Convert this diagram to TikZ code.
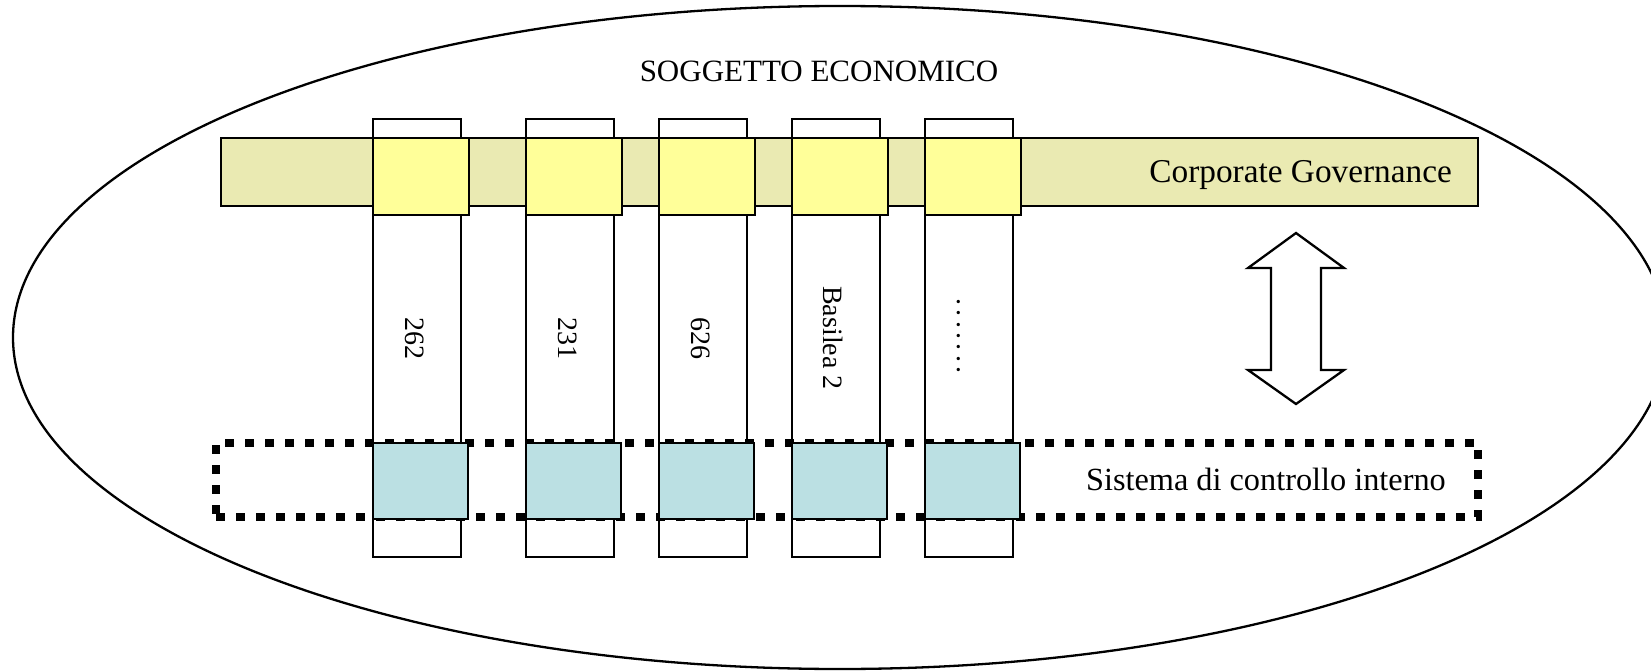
\documentclass[tikz,border=0pt]{standalone}
\usepackage{fontspec}
\setmainfont{Liberation Serif}
\usetikzlibrary{shapes.geometric}
\definecolor{cgbar}{RGB}{234,234,178}
\definecolor{ylw}{RGB}{255,255,153}
\definecolor{blu}{RGB}{187,224,227}
\begin{document}
\begin{tikzpicture}[x=1pt,y=-1pt,
  box/.style={draw, line width=2.7pt, inner sep=0pt, outer sep=0pt, rectangle},
  colbox/.style={box, fill=white, minimum width=88pt, minimum height=438pt},
  ysq/.style={box, fill=ylw, minimum width=96pt, minimum height=77pt},
  bsq/.style={box, fill=blu, minimum width=95pt, minimum height=76pt},
  lab/.style={rotate=-90, anchor=base, inner sep=0pt, font=\fontsize{28}{34}\selectfont},
  txt/.style={inner sep=0pt}]
\useasboundingbox (0,0) rectangle (1651,671);
\fill[white] (0,0) rectangle (1651,671);
% outer ellipse
\node[ellipse, draw, line width=2.3pt, fill=white, inner sep=0pt, outer sep=0pt,
      minimum width=1654pt, minimum height=663pt] (se) at (840,337.5) {};
% corporate governance bar
\node[box, fill=cgbar, minimum width=1257pt, minimum height=68pt] (cg) at (849.5,172) {};
% columns
\node[colbox] (c1) at (417,338) {};
\node[colbox] (c2) at (570,338) {};
\node[colbox] (c3) at (703,338) {};
\node[colbox] (c4) at (836,338) {};
\node[colbox] (c5) at (969,338) {};
% yellow squares
\node[ysq] (y1) at (421,176.5) {};
\node[ysq] (y2) at (574,176.5) {};
\node[ysq] (y3) at (707,176.5) {};
\node[ysq] (y4) at (840,176.5) {};
\node[ysq] (y5) at (973,176.5) {};
% dotted internal control frame
\node[draw, line width=8pt, dash pattern=on 9pt off 11pt, inner sep=0pt, outer sep=0pt,
      minimum width=1262pt, minimum height=74pt] (sc) at (847,480) {};
% blue squares
\node[bsq] (b1) at (420.5,481) {};
\node[bsq] (b2) at (573.5,481) {};
\node[bsq] (b3) at (706.5,481) {};
\node[bsq] (b4) at (839.5,481) {};
\node[bsq] (b5) at (972.5,481) {};
% column labels
\node[lab] (l1) at (405,338) {262};
\node[lab] (l2) at (558,338) {231};
\node[lab] (l3) at (691,338) {626};
\node[lab] (l4) at (823.5,338) {Basilea 2};
\node[lab] (l5) at (957,336) {.\kern4.4pt.\kern4.4pt.\kern4.4pt.\kern4.4pt.\kern4.4pt.\kern4.4pt.};
% texts
\node[txt, anchor=base, font=\fontsize{31}{37}\selectfont] (title) at (819,81.7) {SOGGETTO ECONOMICO};
\node[txt, anchor=base east, font=\fontsize{33.3}{40}\selectfont] (cgt) at (1452,183) {Corporate Governance};
\node[txt, anchor=base east, font=\fontsize{32.3}{38}\selectfont] (sct) at (1446,490) {Sistema di controllo interno};
% double arrow
\draw[line width=2.3pt, fill=white, line join=miter]
  (1296,233) -- (1344,268) -- (1321,268) -- (1321,370) -- (1344,370) -- (1296,404)
  -- (1248,370) -- (1271,370) -- (1271,268) -- (1248,268) -- cycle;
\end{tikzpicture}
\end{document}
